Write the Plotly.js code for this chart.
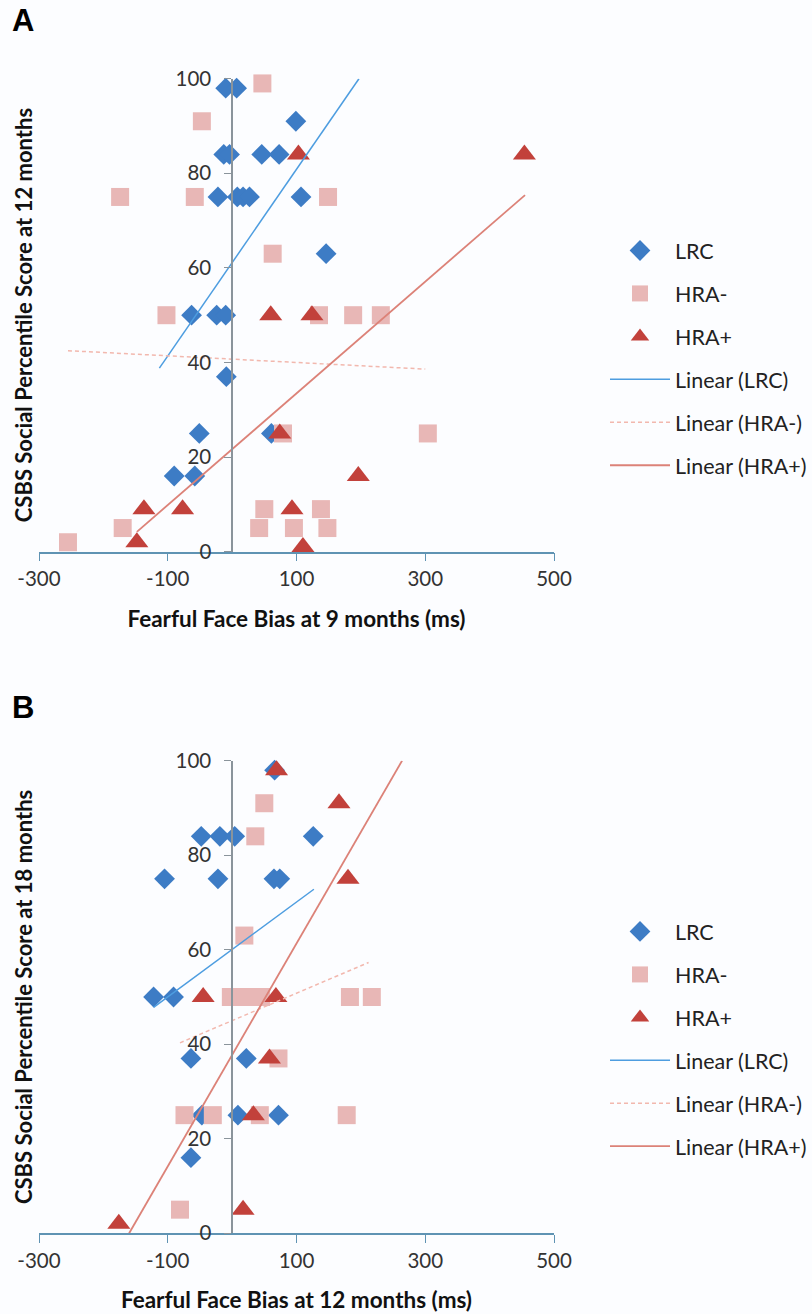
<!DOCTYPE html>
<html>
<head>
<meta charset="utf-8">
<script src="https://cdn.plot.ly/plotly-3.0.1.min.js"></script>
<style>
  html, body { margin: 0; padding: 0; background: #fcfdff; }
  #chart { width: 812px; height: 1314px; }
</style>
</head>
<body>
<div id="chart"></div>
<script>
// ---------- Panel A : 9-month bias vs 12-month CSBS ----------
const A_LRC_x  = [-10, 7, 99, -13, -4, 46, 73, -22, 8, 17, 27, 107, 146, -63, -24, -10, -9, -51, -90, -58, 61];
const A_LRC_y  = [98, 98, 91, 84, 84, 84, 84, 75, 75, 75, 75, 75, 63, 50, 50, 50, 37, 25, 16, 16, 25];
const A_HRAm_x = [47, -47, -174, -58, 149, 63, -102, 135, 188, 231, -255, -170, 79, 304, 50, 42, 96, 138, 148];
const A_HRAm_y = [99, 91, 75, 75, 75, 63, 50, 50, 50, 50, 2, 5, 25, 25, 9, 5, 5, 9, 5];
const A_HRAp_x = [454, 103, 60, 124, 74, 196, -137, -77, 93, -148, 110];
const A_HRAp_y = [84, 84, 50, 50, 25, 16, 9, 9, 9, 2, 1];
// trend line end points
const A_LRC_fit_x  = [-113, 197];
const A_LRC_fit_y  = [38.8, 100];
const A_HRAm_fit_x = [-255, 300];
const A_HRAm_fit_y = [42.5, 38.6];
const A_HRAp_fit_x = [-148, 455];
const A_HRAp_fit_y = [4.2, 75.4];

// ---------- Panel B : 12-month bias vs 18-month CSBS ----------
const B_LRC_x  = [66, -48, -19, 4, 126, -105, -22, 65, 74, -122, -91, -64, 22, -47, 9, 72, -64];
const B_LRC_y  = [98, 84, 84, 84, 84, 75, 75, 75, 75, 50, 50, 37, 37, 25, 25, 25, 16];
const B_HRAm_x = [50, 36, 19, -2, 21, 45, 183, 217, 72, -74, -30, 43, 178, -81];
const B_HRAm_y = [91, 84, 63, 50, 50, 50, 50, 50, 37, 25, 25, 25, 25, 5];
const B_HRAp_x = [69, 166, 180, -45, 68, 58, 33, 17, -176];
const B_HRAp_y = [98, 91, 75, 50, 50, 37, 25, 5, 2];
const B_LRC_fit_x  = [-122, 127];
const B_LRC_fit_y  = [47.8, 72.8];
const B_HRAm_fit_x = [-81, 212];
const B_HRAm_fit_y = [40.3, 57.3];
const B_HRAp_fit_x = [-160, 264];
const B_HRAp_fit_y = [0, 100];

const X_TICKS = [-300, -100, 100, 300, 500];
const Y_TICKS = [0, 20, 40, 60, 80, 100];
const SERIES_NAMES = ['LRC', 'HRA-', 'HRA+', 'Linear (LRC)', 'Linear (HRA-)', 'Linear (HRA+)'];
const X_TITLES = ['Fearful Face Bias at 9 months (ms)', 'Fearful Face Bias at 12 months (ms)'];
const Y_TITLES = ['CSBS Social Percentile Score at 12 months', 'CSBS Social Percentile Score at 18 months'];
const PANEL_LABELS = ['A', 'B'];

// ---------- styles ----------
const C_LRC = '#3d7cc5';
const C_HRAm = '#e8b7b6';
const C_HRAp = '#c2413b';
const C_FIT_LRC = '#4d9de0';
const C_FIT_HRAm = '#f2b8ae';
const C_FIT_HRAp = '#dc8278';
const FONT = 'Lato, "Open Sans", sans-serif';

function panelTraces(p, d) {
  const xa = p === 0 ? 'x' : 'x2';
  const ya = p === 0 ? 'y' : 'y2';
  const lg = p === 0 ? 'legend' : 'legend2';
  const base = {xaxis: xa, yaxis: ya, legend: lg, cliponaxis: false, hoverinfo: 'x+y'};
  return [
    Object.assign({}, base, {type: 'scatter', mode: 'markers', name: SERIES_NAMES[0], legendgroup: p + 'a',
      x: d.lx, y: d.ly, marker: {symbol: 'diamond', size: 16, color: C_LRC}}),
    Object.assign({}, base, {type: 'scatter', mode: 'markers', name: SERIES_NAMES[1], legendgroup: p + 'b',
      x: d.mx, y: d.my, marker: {symbol: 'square', size: 18, color: C_HRAm}}),
    Object.assign({}, base, {type: 'scatter', mode: 'markers', name: SERIES_NAMES[2], legendgroup: p + 'c',
      x: d.px, y: d.py, marker: {symbol: 'triangle-up', size: 20, color: C_HRAp}}),
    Object.assign({}, base, {type: 'scatter', mode: 'lines', name: SERIES_NAMES[3], legendgroup: p + 'd',
      x: d.flx, y: d.fly, line: {color: C_FIT_LRC, width: 1.5}}),
    Object.assign({}, base, {type: 'scatter', mode: 'lines', name: SERIES_NAMES[4], legendgroup: p + 'e',
      x: d.fmx, y: d.fmy, line: {color: C_FIT_HRAm, width: 1.5, dash: '4px,3px'}}),
    Object.assign({}, base, {type: 'scatter', mode: 'lines', name: SERIES_NAMES[5], legendgroup: p + 'f',
      x: d.fpx, y: d.fpy, line: {color: C_FIT_HRAp, width: 1.8}})
  ];
}

const traces = [].concat(
  panelTraces(0, {lx: A_LRC_x, ly: A_LRC_y, mx: A_HRAm_x, my: A_HRAm_y, px: A_HRAp_x, py: A_HRAp_y,
    flx: A_LRC_fit_x, fly: A_LRC_fit_y, fmx: A_HRAm_fit_x, fmy: A_HRAm_fit_y, fpx: A_HRAp_fit_x, fpy: A_HRAp_fit_y}),
  panelTraces(1, {lx: B_LRC_x, ly: B_LRC_y, mx: B_HRAm_x, my: B_HRAm_y, px: B_HRAp_x, py: B_HRAp_y,
    flx: B_LRC_fit_x, fly: B_LRC_fit_y, fmx: B_HRAm_fit_x, fmy: B_HRAm_fit_y, fpx: B_HRAp_fit_x, fpy: B_HRAp_fit_y})
);

const W = 812, H = 1314;
const xDom = [39 / W, 554 / W];
const yDomA = [1 - 551.7 / H, 1 - 78.7 / H];
const yDomB = [1 - 1233.3 / H, 1 - 760.7 / H];
const yPos = xDom[0] + (0 - (-300)) / 800 * (xDom[1] - xDom[0]);

function xAxis(domainAnchor, title) {
  return {
    domain: xDom, range: [-300, 500], anchor: domainAnchor,
    tickmode: 'array', tickvals: X_TICKS, ticktext: X_TICKS.map(String),
    ticks: 'outside', ticklen: 8, tickcolor: '#5f93b3', tickwidth: 1.2,
    showline: true, linecolor: '#5f93b3', linewidth: 1.5,
    showgrid: false, zeroline: false, fixedrange: true,
    tickfont: {family: FONT, size: 20.5, color: '#333333'},
    title: {text: '<b>' + title + '</b>', standoff: 22, font: {family: FONT, size: 22.5, color: '#111111'}}
  };
}
function yAxis(dom) {
  return {
    domain: dom, range: [0, 100], anchor: 'free', position: yPos,
    tickmode: 'array', tickvals: Y_TICKS, ticktext: Y_TICKS.map(String),
    ticks: 'outside', ticklen: 7, tickcolor: '#8a949b', tickwidth: 1.2,
    ticklabelstandoff: 9,
    showline: true, linecolor: '#8a949b', linewidth: 1.5,
    showgrid: false, zeroline: false, fixedrange: true,
    tickfont: {family: FONT, size: 20.5, color: '#333333'}
  };
}

const legendBase = {
  bgcolor: 'rgba(0,0,0,0)', borderwidth: 0,
  font: {family: FONT, size: 21.5, color: '#222222'},
  itemwidth: 60, tracegroupgap: 12, xanchor: 'left', yanchor: 'top', itemclick: false, itemdoubleclick: false
};

const annotations = [];
[[yDomA, 0], [yDomB, 1]].forEach(([dom, i]) => {
  annotations.push({
    xref: 'paper', yref: 'paper', x: 23 / W, y: (dom[0] + dom[1]) / 2,
    text: '<b>' + Y_TITLES[i] + '</b>', textangle: -90, showarrow: false,
    xanchor: 'center', yanchor: 'middle',
    font: {family: FONT, size: 22, color: '#111111'}
  });
  annotations.push({
    xref: 'paper', yref: 'paper', x: 10 / W, y: 1 - (i === 0 ? 20 : 707) / H,
    text: '<b>' + PANEL_LABELS[i] + '</b>', showarrow: false, xanchor: 'left', yanchor: 'middle',
    font: {family: 'Liberation Sans, Arial, sans-serif', size: 31, color: '#000000'}
  });
});

const layout = {
  width: W, height: H,
  margin: {l: 0, r: 0, t: 0, b: 0},
  paper_bgcolor: '#fcfdff', plot_bgcolor: 'rgba(0,0,0,0)',
  showlegend: true,
  xaxis: xAxis('y', X_TITLES[0]),
  yaxis: yAxis(yDomA),
  xaxis2: xAxis('y2', X_TITLES[1]),
  yaxis2: yAxis(yDomB),
  legend: Object.assign({}, legendBase, {x: 605 / W, y: 1 - 230 / H}),
  legend2: Object.assign({}, legendBase, {x: 605 / W, y: 1 - 911 / H}),
  annotations: annotations
};

Plotly.newPlot('chart', traces, layout, {displayModeBar: false, staticPlot: false});
</script>
</body>
</html>
